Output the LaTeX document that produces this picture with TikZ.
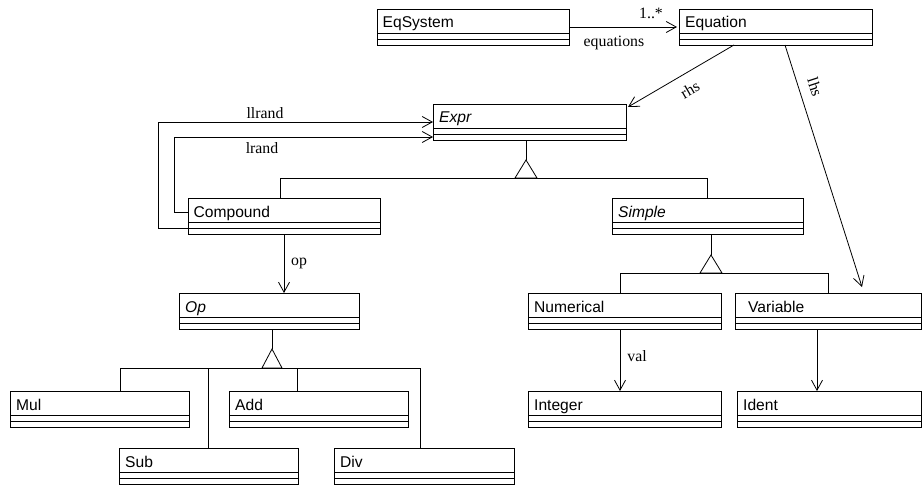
\documentclass[tikz,border=0pt]{standalone}
\usepackage{fontspec}
\usetikzlibrary{arrows.meta}
\newfontfamily\clsfam{Liberation Sans}
\newfontfamily\lblfam{Liberation Serif}
\newcommand\clsfont{\clsfam\fontsize{15.6}{18}\selectfont}
\newcommand\lblfont{\lblfam\fontsize{15.8}{18}\selectfont}
\newcommand\umlcls[6]{%
  \node[cls, minimum width=#4pt] (#1) at (#2,#3) {};
  \draw[ln] ([yshift=-24pt]#1.north west) -- ([yshift=-24pt]#1.north east);
  \draw[ln] ([yshift=-30pt]#1.north west) -- ([yshift=-30pt]#1.north east);
  \node[clsname] (#1-name) at ([xshift=#6pt,yshift=-19pt]#1.north west) {#5};
}
\tikzset{
  cls/.style={draw, line width=0.8pt, anchor=north west, minimum height=36pt, inner sep=0pt, outer sep=0pt},
  clsname/.style={anchor=base west, inner sep=0pt, font=\clsfont},
  lbl/.style={font=\lblfont, inner sep=1pt},
  ln/.style={line width=0.8pt},
  assoc/.style={line width=0.8pt, -{Straight Barb[length=10pt,width=11pt,line width=0.8pt]}},
}
\begin{document}
\begin{tikzpicture}[x=1pt,y=-1pt]
\fill[white] (0,0) rectangle (922,487);
\useasboundingbox (0,0) rectangle (922,487);

% classes
\umlcls{eqsys}{377}{9}{192}{EqSystem}{5.5}
\umlcls{equation}{679}{9}{193}{Equation}{6}
\umlcls{expr}{433}{104}{193}{\itshape Expr}{6}
\umlcls{compound}{188}{198}{192}{Compound}{5.5}
\umlcls{simple}{612}{198}{191}{\itshape Simple}{6}
\umlcls{op}{179}{293}{180}{\itshape Op}{6}
\umlcls{numerical}{528}{293}{193}{Numerical}{6}
\umlcls{variable}{735}{293}{186}{Variable}{13}
\umlcls{mul}{10}{391}{179}{Mul}{6}
\umlcls{add}{229}{391}{179}{Add}{6}
\umlcls{integer}{528}{391}{193}{Integer}{6}
\umlcls{ident}{737}{391}{184}{Ident}{6}
\umlcls{sub}{119}{448}{179}{Sub}{6}
\umlcls{div}{334}{448}{180}{Div}{6}

% associations
\draw[assoc, shorten >=2pt] (eqsys.east) -- (equation.west);
\node[lbl] (mult) at (651,13) {1..*};
\node[lbl] (eqlbl) at (614,43) {equations};

\draw[assoc] ([xshift=55pt]equation.south west) -- ([xshift=2pt,yshift=-3pt]expr.north east);
\node[lbl, rotate=30] (rhslbl) at (690,90) {rhs};

\draw[assoc] ([xshift=106pt]equation.south west) -- ([xshift=127pt,yshift=6pt]variable.north west);
\node[lbl, rotate=-72] (lhslbl) at (815,87) {lhs};

\draw[assoc] ([yshift=-30pt]compound.north west) -- ++(-30,0) |- ([yshift=-18pt]expr.north west);
\node[lbl] (llrandlbl) at (265,113) {llrand};
\draw[assoc] ([yshift=-14pt]compound.north west) -- ++(-14,0) |- ([yshift=-33pt]expr.north west);
\node[lbl] (lrandlbl) at (262,148) {lrand};

\coordinate (opS) at ([xshift=96pt]compound.south west);
\draw[assoc] (opS) -- (opS |- op.north);
\node[lbl] (oplbl) at (299,263) {op};

\coordinate (valS) at ([xshift=92pt]numerical.south west);
\draw[assoc] (valS) -- (valS |- integer.north);
\node[lbl] (vallbl) at (637,356) {val};

\coordinate (idS) at ([xshift=82pt]variable.south west);
\draw[assoc] (idS) -- (idS |- ident.north);

% generalization: Expr
\coordinate (exprS) at ([xshift=93pt]expr.south west);
\coordinate (exprT) at ([yshift=-20pt]exprS);
\draw[ln] (exprS) -- (exprT);
\draw[ln, line join=miter] (exprT) -- ++(-11,18) -- ++(22,0) -- cycle;
\coordinate (exprB) at ([yshift=-18pt]exprT);
\draw[ln] ([xshift=92pt]compound.north west) |- (exprB);
\draw[ln] ([xshift=95pt]simple.north west) |- (exprB);

% generalization: Simple
\coordinate (simpleS) at ([xshift=99pt]simple.south west);
\coordinate (simpleT) at ([yshift=-21pt]simpleS);
\draw[ln] (simpleS) -- (simpleT);
\draw[ln, line join=miter] (simpleT) -- ++(-11,18) -- ++(22,0) -- cycle;
\coordinate (simpleB) at ([yshift=-18pt]simpleT);
\draw[ln] ([xshift=92pt]numerical.north west) |- (simpleB);
\draw[ln] ([xshift=93pt]variable.north west) |- (simpleB);

% generalization: Op
\coordinate (opGS) at ([xshift=93pt]op.south west);
\coordinate (opGT) at ([yshift=-20pt]opGS);
\draw[ln] (opGS) -- (opGT);
\draw[ln, line join=miter] (opGT) -- ++(-10,19) -- ++(20,0) -- cycle;
\coordinate (opGB) at ([yshift=-19pt]opGT);
\draw[ln] ([xshift=110pt]mul.north west) |- (opGB);
\draw[ln] ([xshift=89pt]sub.north west) |- (opGB);
\draw[ln] ([xshift=68pt]add.north west) |- (opGB);
\draw[ln] ([xshift=86pt]div.north west) |- (opGB);
\end{tikzpicture}
\end{document}
